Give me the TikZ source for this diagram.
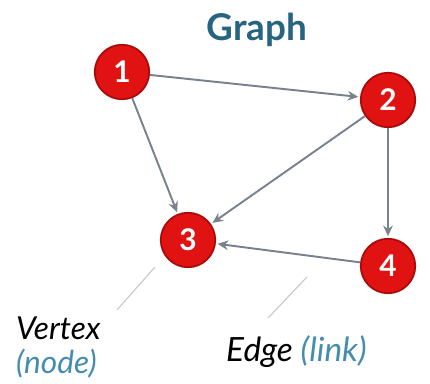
\documentclass[tikz,border=0pt]{standalone}
\usepackage{fontspec}
\setmainfont{Lato}
\usetikzlibrary{arrows.meta}
\definecolor{titleblue}{RGB}{38,100,128}
\definecolor{noteblue}{RGB}{70,140,175}
\definecolor{vred}{RGB}{225,18,18}
\definecolor{vdark}{RGB}{170,10,10}
\definecolor{edgegray}{RGB}{120,130,142}

\begin{document}
\begin{tikzpicture}[x=0.02cm,y=-0.02cm,
  vertex/.style={circle,fill=vred,draw=vdark,line width=1pt,minimum size=31pt,inner sep=0pt,
    text=white,font=\fontsize{17}{17}\selectfont\bfseries},
  edge/.style={draw=edgegray,line width=1.1pt,-{Stealth[length=6pt,width=5.5pt]},shorten >=1pt},
  leader/.style={draw=gray!45,line width=0.6pt}]
\useasboundingbox (0,0) rectangle (430,384);

% title
\node[text=titleblue,font=\fontsize{21}{21}\selectfont\bfseries] (title) at (257,30) {Graph};

% the four vertices
\node[vertex] (n1) at (122,72) {1};
\node[vertex] (n2) at (388,100) {2};
\node[vertex] (n3) at (188,240) {3};
\node[vertex] (n4) at (388,266) {4};

% directed edges
\foreach \a/\b in {n1/n2,n1/n3,n2/n3,n2/n4,n4/n3}
  \draw[edge] (\a) -- (\b);

% labels with leader lines
\node[anchor=west,font=\fontsize{18}{18}\selectfont\itshape] (vtx) at (10,328) {Vertex};
\node[anchor=west,text=noteblue,font=\fontsize{18}{18}\selectfont\itshape] (vnote) at (10,364) {(node)};
\node[anchor=west,font=\fontsize{19}{19}\selectfont\itshape] (edg) at (220,352) {Edge \textcolor{noteblue}{(link)}};
\coordinate (vtip) at (155,267);
\coordinate (vend) at (117,310);
\coordinate (etip) at (307,277);
\coordinate (eend) at (268,318);
\draw[leader] (vtip) -- (vend);
\draw[leader] (etip) -- (eend);
\end{tikzpicture}
\end{document}
